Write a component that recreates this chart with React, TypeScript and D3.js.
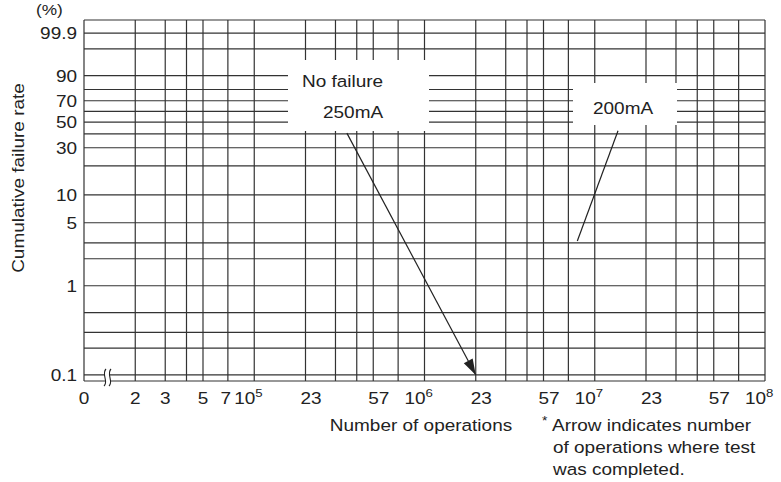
import * as d3 from "d3";

// cumulative failure rate (%) grid lines on Weibull paper
const yGridRates = [99.9, 99, 90, 80, 70, 60, 50, 40, 30, 20, 10, 5, 3, 2, 1, 0.5, 0.3, 0.2, 0.1];
const yTickRates = [99.9, 90, 70, 50, 30, 10, 5, 1, 0.1];
const yTickLabels = ["99.9", "90", "70", "50", "30", "10", "5", "1", "0.1"];

// number of operations
const xDecades = [1e4, 1e5, 1e6, 1e7];
const xGridSteps = [2, 3, 4, 5, 7, 10];
const xTickValues = [1e4, 2e4, 3e4, 5e4, 7e4, 1e5, 2e5, 5e5, 1e6, 2e6, 5e6, 1e7, 2e7, 5e7, 1e8];
const xTickLabels = ["0", "2", "3", "5", "7", "10", "23", "57", "10", "23", "57", "10", "23", "57", "10"];
const xTickSups = ["", "", "", "", "", "5", "", "", "6", "", "", "7", "", "", "8"];

// series
const ops250mA = [3.5e5, 2e6];
const rate250mA = [40.6, 0.1];
const ops200mA = [7.9e6, 1.37e7];
const rate200mA = [3.15, 42.5];

const W = 781;
const H = 482;
const left = 84;
const right = 765;
const top = 20;
const bottom = 381;

const FONT = "'Liberation Sans', Arial, Helvetica, sans-serif";
const INK = "#222";
const SX = 1.15; // the scanned lettering is wide

const weibull = (p: number) => Math.log(-Math.log(1 - p / 100));

const Txt = ({
  x,
  y,
  anchor = "start",
  size = 16.5,
  children,
}: {
  x: number;
  y: number;
  anchor?: "start" | "middle" | "end";
  size?: number;
  children: React.ReactNode;
}) => (
  <text
    transform={`translate(${x},${y}) scale(${SX},1)`}
    textAnchor={anchor}
    fontSize={size}
    fontFamily={FONT}
    fill={INK}
  >
    {children}
  </text>
);

export default function App() {
  const xScale = d3.scaleLog().domain([1e4, 1e8]).range([left, right]);
  const yScale = d3
    .scaleLinear()
    .domain([weibull(0.0855), weibull(99.994)])
    .range([bottom, top]);
  const y = (p: number) => yScale(weibull(p));

  const xGrid = xDecades.flatMap((d) => xGridSteps.map((s) => d * s));

  const line = d3
    .line<[number, number]>()
    .x((d) => xScale(d[0]))
    .y((d) => y(d[1]));

  const p250 = ops250mA.map((o, i) => [o, rate250mA[i]] as [number, number]);
  const p200 = ops200mA.map((o, i) => [o, rate200mA[i]] as [number, number]);

  // arrow head at end of the 250mA line
  const [x0, y0] = [xScale(p250[0][0]), y(p250[0][1])];
  const [x1, y1] = [xScale(p250[1][0]), y(p250[1][1])];
  const ang = Math.atan2(y1 - y0, x1 - x0);
  const hl = 16;
  const hw = 5;
  const bx = x1 - hl * Math.cos(ang);
  const by = y1 - hl * Math.sin(ang);
  const head = [
    [x1, y1],
    [bx + hw * Math.sin(ang), by - hw * Math.cos(ang)],
    [bx - hw * Math.sin(ang), by + hw * Math.cos(ang)],
  ]
    .map((p) => p.join(","))
    .join(" ");

  const brk = [105, 110];

  return (
    <svg
      width={W}
      height={H}
      style={{ position: "absolute", left: 0, top: 0, background: "#fff" }}
    >
      {/* grid */}
      <g stroke="#333" strokeWidth={1.2}>
        {yGridRates.map((r) => (
          <line key={r} x1={left} x2={right} y1={y(r)} y2={y(r)} />
        ))}
        {xGrid.map((v) => (
          <line key={v} x1={xScale(v)} x2={xScale(v)} y1={top} y2={bottom} />
        ))}
        <line x1={left} x2={right} y1={top} y2={top} />
        <line x1={left} x2={right} y1={bottom} y2={bottom} />
        <line x1={left} x2={left} y1={top} y2={bottom} />
      </g>

      {/* axis break */}
      <rect x={brk[0]} y={372} width={brk[1] - brk[0]} height={12} fill="#fff" />
      {brk.map((bx0) => (
        <path
          key={bx0}
          d={`M${bx0 - 1},386 C${bx0 + 4},382 ${bx0 - 4},374 ${bx0 + 1},369`}
          fill="none"
          stroke={INK}
          strokeWidth={1.1}
        />
      ))}

      {/* label boxes */}
      <rect x={288} y={60} width={141} height={71} fill="#fff" />
      <rect x={573} y={83} width={104} height={42} fill="#fff" />
      <Txt x={302} y={87}>No failure</Txt>
      <Txt x={323} y={118}>250mA</Txt>
      <Txt x={593} y={114}>200mA</Txt>

      {/* series */}
      <path d={line(p250) ?? ""} fill="none" stroke={INK} strokeWidth={1.2} />
      <polygon points={head} fill={INK} />
      <path d={line(p200) ?? ""} fill="none" stroke={INK} strokeWidth={1.2} />

      {/* y axis */}
      {yTickRates.map((r, i) => (
        <Txt key={r} x={77} y={y(r) + 6} anchor="end">
          {yTickLabels[i]}
        </Txt>
      ))}
      <Txt x={36} y={15} size={15}>(%)</Txt>
      <text
        transform={`translate(24,178) rotate(-90) scale(${SX},1)`}
        textAnchor="middle"
        fontSize={16.5}
        fontFamily={FONT}
        fill={INK}
      >
        Cumulative failure rate
      </text>

      {/* x axis */}
      {xTickValues.map((v, i) => {
        const px = xScale(v);
        const lab = xTickLabels[i];
        const sup = xTickSups[i];
        if (sup)
          return (
            <g key={v}>
              <Txt x={px + 1} y={404} anchor="end">
                {lab}
              </Txt>
              <Txt x={px + 1} y={397} size={11.5}>
                {sup}
              </Txt>
            </g>
          );
        if (lab.length === 2)
          return (
            <Txt key={v} x={px - 5} y={404}>
              {lab}
            </Txt>
          );
        return (
          <Txt key={v} x={lab === "7" ? px - 2 : px} y={404} anchor="middle">
            {lab}
          </Txt>
        );
      })}
      <Txt x={421} y={431} anchor="middle">
        Number of operations
      </Txt>

      {/* footnote */}
      <Txt x={542} y={425} size={12}>
        *
      </Txt>
      <Txt x={552} y={431}>Arrow indicates number</Txt>
      <Txt x={553} y={453}>of operations where test</Txt>
      <Txt x={553} y={475}>was completed.</Txt>
    </svg>
  );
}
